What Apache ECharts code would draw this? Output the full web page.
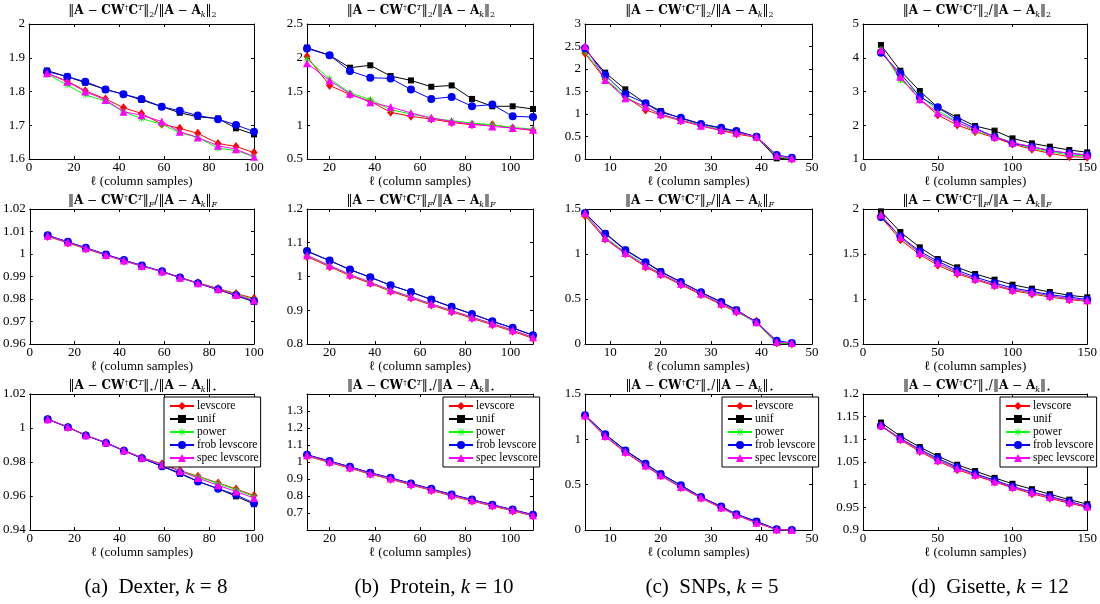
<!DOCTYPE html>
<html><head><meta charset="utf-8">
<script src="https://cdn.jsdelivr.net/npm/echarts@6/dist/echarts.min.js"></script>
<style>html,body{margin:0;padding:0;background:#fff}#c{width:1100px;height:604px}</style>
</head><body><div id="c"></div>
<script>
// ---------- DATA ----------
const methods = ['levscore','unif','power','frob levscore','spec levscore'];
const xDexter  = [8,17,25,34,42,50,59,67,75,84,92,100];
const xProtein = [10,20,29,38,47,56,65,74,83,92,101,110];
const xSNPs    = [5,9,13,17,20,24,28,32,35,39,43,46];
const xGisette = [12,25,38,50,63,75,88,100,113,125,138,150];

// order of rows in each panel: levscore, unif, power, frob levscore, spec levscore
const dexterSpec = [
  [1.854,1.831,1.802,1.778,1.752,1.735,1.703,1.691,1.676,1.646,1.637,1.619],
  [1.862,1.844,1.826,1.806,1.792,1.775,1.755,1.737,1.725,1.720,1.691,1.673],
  [1.852,1.819,1.790,1.772,1.740,1.720,1.703,1.678,1.664,1.632,1.625,1.607],
  [1.859,1.844,1.829,1.806,1.792,1.778,1.755,1.743,1.729,1.718,1.701,1.681],
  [1.854,1.829,1.800,1.775,1.740,1.730,1.711,1.681,1.664,1.639,1.629,1.607]];
const proteinSpec = [
  [2.017,1.590,1.455,1.356,1.192,1.132,1.092,1.042,1.007,1.007,0.958,0.923],
  [2.150,2.037,1.853,1.888,1.729,1.664,1.570,1.590,1.390,1.281,1.281,1.241],
  [1.978,1.689,1.480,1.380,1.231,1.167,1.107,1.067,1.032,1.007,0.968,0.943],
  [2.137,2.037,1.803,1.704,1.694,1.530,1.390,1.420,1.281,1.306,1.132,1.122],
  [1.918,1.664,1.465,1.341,1.271,1.182,1.107,1.057,1.017,0.982,0.958,0.933]];
const snpsSpec = [
  [2.348,1.770,1.385,1.089,0.978,0.852,0.733,0.630,0.556,0.481,0.052,0],
  [2.437,1.919,1.548,1.237,1.067,0.904,0.778,0.681,0.607,0.496,0.015,0],
  [2.385,1.793,1.385,1.148,1.000,0.867,0.756,0.659,0.585,0.496,0.052,0],
  [2.459,1.867,1.437,1.237,1.037,0.919,0.778,0.696,0.622,0.496,0.089,0.030],
  [2.511,1.756,1.348,1.163,0.993,0.867,0.741,0.644,0.585,0.496,0.074,0.015]];
const gisetteSpec = [
  [4.210,3.410,2.768,2.304,2.007,1.810,1.632,1.444,1.286,1.168,1.069,1.049],
  [4.378,3.617,3.015,2.531,2.235,1.978,1.840,1.612,1.464,1.365,1.267,1.198],
  [4.250,3.341,2.896,2.432,2.106,1.810,1.681,1.484,1.316,1.217,1.119,1.089],
  [4.150,3.538,2.847,2.531,2.156,1.909,1.662,1.464,1.365,1.247,1.168,1.119],
  [4.230,3.440,2.768,2.373,2.077,1.879,1.662,1.484,1.365,1.247,1.168,1.119]];

const dexterFro = [
  [1.0078,1.0049,1.0023,0.9994,0.9969,0.9946,0.9921,0.9895,0.9872,0.9847,0.9824,0.9803],
  [1.0083,1.0053,1.0027,0.9997,0.9972,0.9948,0.9922,0.9895,0.9869,0.9841,0.9815,0.9787],
  [1.0080,1.0051,1.0025,0.9996,0.9971,0.9947,0.9922,0.9896,0.9871,0.9845,0.9821,0.9798],
  [1.0083,1.0054,1.0028,0.9998,0.9973,0.9949,0.9923,0.9896,0.9870,0.9843,0.9817,0.9791],
  [1.0081,1.0052,1.0026,0.9996,0.9971,0.9947,0.9922,0.9895,0.9870,0.9843,0.9818,0.9793]];
const proteinFro = [
  [1.0587,1.0291,1.0024,0.9797,0.9560,0.9363,0.9155,0.8958,0.8760,0.8572,0.8375,0.8168],
  [1.0746,1.0469,1.0202,0.9975,0.9738,0.9541,0.9314,0.9096,0.8889,0.8672,0.8474,0.8257],
  [1.0617,1.0321,1.0054,0.9827,0.9590,0.9393,0.9185,0.8988,0.8790,0.8602,0.8405,0.8198],
  [1.0756,1.0474,1.0207,0.9980,0.9743,0.9541,0.9319,0.9101,0.8889,0.8672,0.8479,0.8262],
  [1.0627,1.0326,1.0059,0.9832,0.9595,0.9398,0.9190,0.8993,0.8795,0.8607,0.8410,0.8203]];
const snpsFro = [
  [1.426,1.167,1.004,0.856,0.770,0.659,0.548,0.437,0.356,0.252,0.011,0],
  [1.456,1.233,1.048,0.911,0.807,0.689,0.574,0.467,0.381,0.241,0.011,0],
  [1.437,1.189,1.019,0.881,0.781,0.670,0.559,0.448,0.363,0.233,0.011,0],
  [1.456,1.226,1.041,0.907,0.800,0.689,0.574,0.467,0.374,0.241,0.037,0.011],
  [1.456,1.178,1.011,0.870,0.781,0.670,0.559,0.448,0.370,0.241,0.022,0.011]];
const gisetteFro = [
  [1.911,1.659,1.493,1.374,1.281,1.215,1.148,1.093,1.056,1.022,0.993,0.974],
  [1.974,1.744,1.574,1.444,1.352,1.278,1.215,1.159,1.115,1.078,1.041,1.019],
  [1.930,1.678,1.511,1.393,1.296,1.226,1.159,1.104,1.067,1.030,1.004,0.981],
  [1.911,1.696,1.530,1.419,1.319,1.244,1.178,1.122,1.085,1.048,1.022,0.993],
  [1.937,1.689,1.511,1.400,1.300,1.226,1.159,1.104,1.074,1.037,1.004,0.985]];

const dexterNuc = [
  [1.0052,1.0006,0.9957,0.9914,0.9868,0.9826,0.9789,0.9750,0.9716,0.9677,0.9641,0.9603],
  [1.0051,1.0005,0.9956,0.9912,0.9866,0.9822,0.9775,0.9730,0.9686,0.9643,0.9598,0.9552],
  [1.0052,1.0006,0.9957,0.9914,0.9868,0.9825,0.9787,0.9748,0.9713,0.9674,0.9637,0.9597],
  [1.0051,1.0005,0.9956,0.9912,0.9866,0.9822,0.9775,0.9736,0.9686,0.9643,0.9607,0.9558],
  [1.0052,1.0006,0.9957,0.9914,0.9868,0.9825,0.9785,0.9746,0.9706,0.9663,0.9627,0.9588]];
const proteinNuc = [
  [1.034,0.997,0.963,0.928,0.898,0.865,0.833,0.800,0.770,0.741,0.712,0.683],
  [1.042,1.005,0.971,0.936,0.906,0.873,0.841,0.808,0.778,0.748,0.719,0.689],
  [1.038,1.001,0.967,0.932,0.902,0.869,0.837,0.804,0.774,0.745,0.716,0.686],
  [1.043,1.006,0.972,0.937,0.907,0.874,0.842,0.809,0.779,0.749,0.720,0.690],
  [1.039,1.002,0.968,0.933,0.903,0.870,0.838,0.805,0.775,0.746,0.717,0.687]];
const snpsNuc = [
  [1.255,1.030,0.855,0.705,0.598,0.470,0.352,0.242,0.163,0.078,0.004,0],
  [1.267,1.058,0.880,0.731,0.620,0.494,0.364,0.260,0.175,0.094,0.007,0],
  [1.260,1.040,0.866,0.716,0.607,0.478,0.360,0.252,0.170,0.085,0.005,0],
  [1.267,1.056,0.878,0.730,0.619,0.493,0.363,0.259,0.174,0.093,0.007,0],
  [1.262,1.037,0.863,0.711,0.604,0.474,0.359,0.248,0.167,0.081,0.005,0]];
const gisetteNuc = [
  [1.130,1.099,1.073,1.052,1.033,1.020,1.006,0.993,0.980,0.970,0.959,0.950],
  [1.137,1.107,1.083,1.063,1.044,1.030,1.015,1.002,0.990,0.979,0.967,0.957],
  [1.131,1.101,1.076,1.056,1.037,1.023,1.009,0.995,0.983,0.973,0.962,0.952],
  [1.130,1.102,1.078,1.058,1.039,1.024,1.010,0.996,0.984,0.974,0.963,0.952],
  [1.131,1.101,1.076,1.054,1.036,1.022,1.007,0.995,0.983,0.973,0.961,0.952]];

// axis ranges / tick labels
const xRanges = [
  {min:0, max:100, interval:20},
  {min:10, max:110, ticks:[20,40,60,80,100]},
  {min:5, max:50, ticks:[10,20,30,40,50]},
  {min:0, max:150, interval:50}];
const yRanges = [
  [{min:1.6,max:2,interval:0.1},{min:0.5,max:2.5,interval:0.5},{min:0,max:3,interval:0.5},{min:1,max:5,interval:1}],
  [{min:0.96,max:1.02,interval:0.01},{min:0.8,max:1.2,interval:0.1},{min:0,max:1.5,interval:0.5},{min:0.5,max:2,interval:0.5}],
  [{min:0.94,max:1.02,interval:0.02},{min:0.6,max:1.4,interval:0.1,hideEnds:true},{min:0,max:1.5,interval:0.5},{min:0.9,max:1.2,interval:0.05}]];
const xSets = [xDexter, xProtein, xSNPs, xGisette];
const panels = [
  [dexterSpec, proteinSpec, snpsSpec, gisetteSpec],
  [dexterFro, proteinFro, snpsFro, gisetteFro],
  [dexterNuc, proteinNuc, snpsNuc, gisetteNuc]];
const captions = ['{n|(a)  Dexter, }{i|k}{n| = 8}','{n|(b)  Protein, }{i|k}{n| = 10}','{n|(c)  SNPs, }{i|k}{n| = 5}','{n|(d)  Gisette, }{i|k}{n| = 12}'];
const titleTexts = [
  '{n|‖}{b|A}{n| − }{b|CW}{sup|†}{b|C}{supi|T}{n|‖}{sub|2}{n|/‖}{b|A}{n| − }{b|A}{subi|k}{n|‖}{sub|2}',
  '{n|‖}{b|A}{n| − }{b|CW}{sup|†}{b|C}{supi|T}{n|‖}{subi|F}{n|/‖}{b|A}{n| − }{b|A}{subi|k}{n|‖}{subi|F}',
  '{n|‖}{b|A}{n| − }{b|CW}{sup|†}{b|C}{supi|T}{n|‖}{sub|⋆}{n|/‖}{b|A}{n| − }{b|A}{subi|k}{n|‖}{sub|⋆}'];
const xName = 'ℓ (column samples)';

// ---------- LAYOUT / STYLE ----------
const FF = "'Liberation Serif','Times New Roman','DejaVu Serif',serif";
const TF = "'DejaVu Serif','Liberation Serif',serif";
const colors = ['#ff0000','#000000','#00ff00','#0000ff','#ff00ff'];
const asterisk = 'path://M-1,-10L1,-10L1,10L-1,10Z M-10,-1L10,-1L10,1L-10,1Z M-7.7,-6.3L-6.3,-7.7L7.7,6.3L6.3,7.7Z M6.3,-7.7L7.7,-6.3L-6.3,7.7L-7.7,6.3Z';
const symbols = ['diamond','rect',asterisk,'circle','triangle'];
const symSizes = [[7,9],6,7,8,8];
const colLayout = [{left:29,width:225},{left:307,width:226},{left:585,width:227},{left:863,width:226}];
const rowLayout = [{top:24,height:135},{top:209,height:135},{top:394,height:136}];
const titleY = [11, 201, 386];
const legendLeft = [164, 443, 722, 1000];
const captionX = [156, 434, 712, 990];

const grids=[], xAxes=[], yAxes=[], series=[], graphics=[], legends=[];
const rich = {
  n:{fontFamily:TF,fontSize:12,lineHeight:15,color:'#000'},
  b:{fontFamily:TF,fontSize:12,fontWeight:'bold',lineHeight:15,color:'#000'},
  sup:{fontFamily:TF,fontSize:8,lineHeight:8,verticalAlign:'top',color:'#000'},
  supi:{fontFamily:TF,fontSize:8,fontStyle:'italic',lineHeight:8,verticalAlign:'top',color:'#000'},
  sub:{fontFamily:TF,fontSize:8,lineHeight:8,verticalAlign:'bottom',color:'#000'},
  subi:{fontFamily:TF,fontSize:8,fontStyle:'italic',lineHeight:8,verticalAlign:'bottom',color:'#000'}
};
for (let r=0;r<3;r++) for (let c=0;c<4;c++) {
  const g = r*4+c;
  grids.push({left:colLayout[c].left, top:rowLayout[r].top, width:colLayout[c].width, height:rowLayout[r].height, containLabel:false});
  const xr = xRanges[c], yr = yRanges[r][c];
  const xb = {type:'value', gridIndex:g, position:'bottom', min:xr.min, max:xr.max,
    axisLine:{show:true,onZero:false,lineStyle:{color:'#000',width:1}},
    axisTick:{show:true,inside:true,length:3,lineStyle:{color:'#000',width:1}},
    axisLabel:{show:true,color:'#000',fontFamily:FF,fontSize:13,margin:2},
    splitLine:{show:false},
    name:xName, nameLocation:'middle', nameGap:12,
    nameTextStyle:{color:'#000',fontFamily:FF,fontSize:13,verticalAlign:'top'}};
  const xt = {type:'value', gridIndex:g, position:'top', min:xr.min, max:xr.max,
    axisLine:{show:true,onZero:false,lineStyle:{color:'#000',width:1}},
    axisTick:{show:true,inside:true,length:3,lineStyle:{color:'#000',width:1}},
    axisLabel:{show:false}, splitLine:{show:false}};
  if (xr.interval) { xb.interval = xr.interval; xt.interval = xr.interval; }
  if (xr.ticks) {
    xb.axisLabel.customValues = xr.ticks; xb.axisTick.customValues = xr.ticks;
    xt.axisTick.customValues = xr.ticks; xt.axisLabel.customValues = xr.ticks;
  }
  xAxes.push(xb, xt);
  const yl = {type:'value', gridIndex:g, position:'left', min:yr.min, max:yr.max, interval:yr.interval,
    axisLine:{show:true,onZero:false,lineStyle:{color:'#000',width:1}},
    axisTick:{show:true,inside:true,length:3,lineStyle:{color:'#000',width:1}},
    axisLabel:{show:true,color:'#000',fontFamily:FF,fontSize:13,margin:4,
      showMinLabel: !yr.hideEnds, showMaxLabel: !yr.hideEnds},
    splitLine:{show:false}};
  const yrt = {type:'value', gridIndex:g, position:'right', min:yr.min, max:yr.max, interval:yr.interval,
    axisLine:{show:true,onZero:false,lineStyle:{color:'#000',width:1}},
    axisTick:{show:true,inside:true,length:3,lineStyle:{color:'#000',width:1}},
    axisLabel:{show:false}, splitLine:{show:false}};
  yAxes.push(yl, yrt);
  const xs = xSets[c];
  panels[r][c].forEach((vals, m) => {
    series.push({type:'line', name:methods[m], xAxisIndex:2*g, yAxisIndex:2*g,
      data: xs.map((x,i)=>[x, vals[i]]),
      symbol:symbols[m], symbolSize:symSizes[m], showSymbol:true, clip:false,
      itemStyle:{color:colors[m], borderWidth:0},
      lineStyle:{color:colors[m], width:1},
      emphasis:{disabled:true}, silent:true, z:2+m, animation:false});
  });
  graphics.push({type:'text', x: colLayout[c].left + colLayout[c].width/2 + 1, y: titleY[r], z:100,
    style:{text:titleTexts[r], rich:rich, align:'center', verticalAlign:'middle', fill:'#000', fontFamily:TF, fontSize:12}});
}
for (let c=0;c<4;c++) {
  graphics.push({type:'text', x: captionX[c], y: 587, z:100,
    style:{text:captions[c], rich:{
      n:{fontFamily:FF,fontSize:21,color:'#000'},
      i:{fontFamily:FF,fontSize:21,fontStyle:'italic',color:'#000'}},
      align:'center', verticalAlign:'middle', fill:'#000', fontFamily:FF, fontSize:21}});
  legends.push({orient:'vertical', left:legendLeft[c], top:397, data:methods, selectedMode:false,
    backgroundColor:'#fff', borderColor:'#000', borderWidth:1, borderRadius:0,
    padding:[3,2,3,5], itemGap:1, itemWidth:24, itemHeight:10,
    textStyle:{fontFamily:FF, fontSize:11.5, color:'#000', padding:[0,0,0,-2]}, z:50});
}
const chart = echarts.init(document.getElementById('c'), null, {renderer:'canvas'});
chart.setOption({animation:false, backgroundColor:'#fff', grid:grids, xAxis:xAxes, yAxis:yAxes,
  series:series, legend:legends, graphic:graphics, tooltip:{show:false}});
</script></body></html>
